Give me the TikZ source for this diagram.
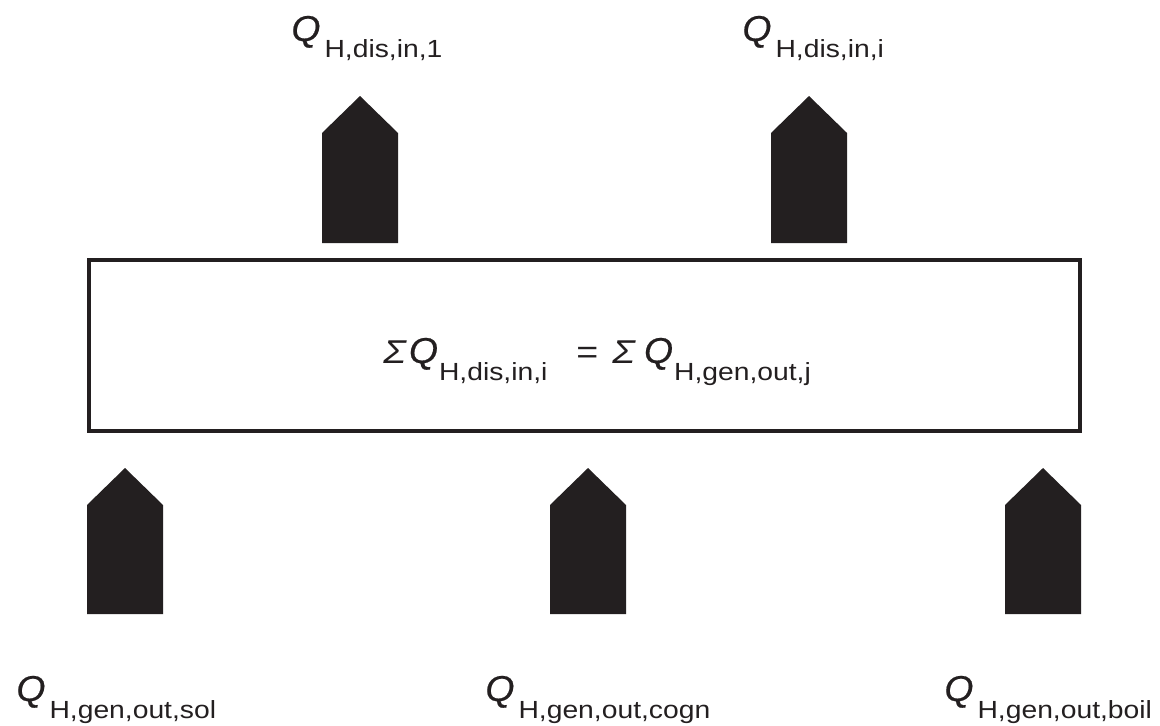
\documentclass[tikz,border=0pt]{standalone}
\usepackage{fontspec}
\setmainfont{Liberation Sans}
\newfontfamily\labfont[FakeStretch=1.14]{Liberation Sans}
\newfontfamily\qfam[FakeStretch=1.04, FakeBold=0.5]{Liberation Sans}
\usepackage{tikz}
\usetikzlibrary{positioning}
\definecolor{ink}{RGB}{35,31,32}

% label pieces: big italic Q with a lowered upright index
\newcommand{\qfont}{\qfam\itshape\fontsize{18pt}{20pt}\selectfont}
\newcommand{\sigfont}{\labfont\itshape\fontsize{16.5pt}{18pt}\selectfont}
\newcommand{\bigfont}{\labfont\fontsize{16.5pt}{18pt}\selectfont}
\newcommand{\idxfont}{\labfont\fontsize{12.4pt}{14pt}\selectfont}
\newcommand{\qidx}[1]{{\qfont Q}\hspace{2pt}\raisebox{-8.5pt}{\idxfont #1}}

\tikzset{
    qlabel/.style={anchor=base west, inner sep=0pt, text=ink},
    balance/.style={draw=ink, line width=2.3pt, inner sep=0pt}
}

\begin{document}
\begin{tikzpicture}[x=0.5pt, y=0.5pt]
    \useasboundingbox (0,0) rectangle (1160,725);

    % balance box
    \node[balance, minimum width=495.5pt, minimum height=85.5pt] (box) at (584.5,379.5) {};
    \node[qlabel] (eq) at (383,362)
        {{\sigfont\char"03A3}\hspace{1.5pt}{\qfont Q}\hspace{0.5pt}\raisebox{-8.5pt}{\idxfont H,dis,in,i}\hspace{14.5pt}{\bigfont=}\hspace{7pt}{\sigfont\char"03A3}\hspace{4.5pt}{\qfont Q}\hspace{0.5pt}\raisebox{-8.5pt}{\idxfont H,gen,out,j}};

    % heat delivered to the distribution circuits
    \foreach \x in {360,809} {
        \fill[ink] (\x-38,482) -- ++(0,110) -- ++(38,37) -- ++(38,-37) -- ++(0,-110) -- cycle;
    }
    \node[qlabel] (dis1) at (291,684) {\qidx{H,dis,in,1}};
    \node[qlabel] (disi) at (742,684) {\qidx{H,dis,in,i}};

    % heat supplied by the generators
    \foreach \x in {125,588,1043} {
        \fill[ink] (\x-38,111) -- ++(0,109) -- ++(38,37) -- ++(38,-37) -- ++(0,-109) -- cycle;
    }
    \node[qlabel] (sol) at (16,24) {\qidx{H,gen,out,sol}};
    \node[qlabel] (cogn) at (485,24) {\qidx{H,gen,out,cogn}};
    \node[qlabel] (boil) at (944,24) {\qidx{H,gen,out,boil}};
\end{tikzpicture}
\end{document}
